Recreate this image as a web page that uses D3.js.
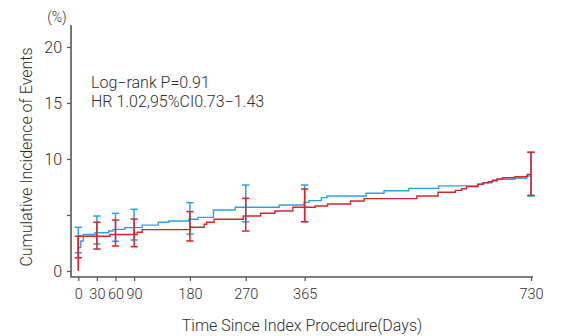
<!DOCTYPE html>
<html>
<head>
<meta charset="utf-8">
<script src="https://cdn.jsdelivr.net/npm/d3@7"></script>
<style>
  body { margin: 0; background: #fff; }
  svg text { font-family: "Roboto", "Liberation Sans", sans-serif; font-weight: 300; fill: #2e2e2e; }
</style>
</head>
<body>
<div class="container"></div>
<script>
// DATA
// blue group: cumulative incidence (%) steps
const blueDays  = [0, 0, 4, 8, 27, 49, 56, 75, 103, 129, 146, 178, 193, 218, 253, 324, 364, 372, 392, 401, 464, 493, 533, 581, 645, 652, 667, 676, 704, 723, 728, 730];
const blueRates = [0, 2.1, 2.68, 3.26, 3.42, 3.57, 3.72, 3.87, 4.1, 4.35, 4.46, 4.62, 4.79, 5.45, 5.69, 5.89, 6.13, 6.28, 6.55, 6.7, 6.94, 7.17, 7.38, 7.6, 7.74, 7.88, 8.04, 8.19, 8.28, 8.48, 8.57, 8.57];

// red group
const redDays  = [0, 0, 51, 95, 103, 180, 203, 207, 219, 266, 294, 317, 346, 382, 402, 439, 461, 546, 580, 608, 618, 626, 644, 653, 661, 668, 675, 684, 704, 724, 730];
const redRates = [0, 3.1, 3.26, 3.46, 3.69, 3.9, 4.17, 4.35, 4.62, 4.91, 5.15, 5.36, 5.69, 5.8, 5.98, 6.25, 6.46, 6.7, 7.03, 7.2, 7.35, 7.53, 7.74, 7.88, 7.97, 8.1, 8.21, 8.33, 8.42, 8.63, 8.63];

// 95% CI at landmark days
const ciDays     = [0, 30, 60, 90, 180, 270, 365, 730];
const blueUpper  = [3.9, 4.91, 5.15, 5.51, 6.1, 7.68, 7.68, 10.6];
const blueLower  = [1.63, 2.41, 2.65, 2.77, 3.3, 4.4, 4.4, 6.7];
const redUpper   = [3.1, 4.35, 4.55, 4.64, 5.3, 6.49, 7.32, 10.6];
const redLower   = [1.19, 1.96, 2.23, 2.17, 2.68, 3.57, 4.4, 6.75];

// ticks
const xTicks = [0, 30, 60, 90, 180, 270, 365, 730];
const yTicks = [0, 5, 10, 15, 20];
const yTickLabels = ["0", "", "10", "15", "20"];

const statLines = ["Log\u2212rank P=0.91", "HR 1.02,95%CI0.73\u22121.43"];

// SETUP
const width = 582, height = 336;
const blue = "#2aa3dd", red = "#d9232c", axisColor = "#555";

const svg = d3.select(".container")
  .append("svg")
  .attr("width", width)
  .attr("height", height);

const xScale = d3.scaleLinear().domain([0, 730]).range([78.3, 531]);
const yScale = d3.scaleLinear().domain([0, 20]).range([271, 47]);

// AXES
const axisX = 71, axisY = 277;

const gx = svg.append("g")
  .attr("transform", `translate(0, ${axisY})`)
  .call(d3.axisBottom(xScale).tickValues(xTicks).tickSize(4).tickPadding(8).tickFormat(d3.format("d")));
gx.select(".domain").remove();
gx.selectAll("line").attr("stroke", axisColor).attr("stroke-width", 1.2);
gx.selectAll("text").style("font-size", "14.5px");

const gy = svg.append("g")
  .attr("transform", `translate(${axisX}, 0)`)
  .call(d3.axisLeft(yScale).tickValues(yTicks).tickSize(4).tickPadding(5).tickFormat((d, i) => yTickLabels[i]));
gy.select(".domain").remove();
gy.selectAll("line").attr("stroke", axisColor).attr("stroke-width", 1.2);
gy.selectAll("text").style("font-size", "16px");

// axis lines (L shape)
svg.append("path")
  .attr("d", `M${axisX},25V${axisY}H533`)
  .attr("fill", "none")
  .attr("stroke", axisColor)
  .attr("stroke-width", 1.6);

// labels
svg.append("text")
  .attr("x", 57).attr("y", 22)
  .attr("text-anchor", "middle")
  .style("font-size", "14px")
  .text("(%)");

svg.append("text")
  .attr("transform", "translate(32, 157) rotate(-90)")
  .attr("text-anchor", "middle")
  .style("font-size", "16px")
  .text("Cumulative Incidence of Events");

svg.append("text")
  .attr("x", 302).attr("y", 331)
  .attr("text-anchor", "middle")
  .style("font-size", "16px")
  .text("Time Since Index Procedure(Days)");

svg.selectAll(".stat")
  .data(statLines)
  .enter()
  .append("text")
  .attr("class", "stat")
  .attr("x", 91)
  .attr("y", (d, i) => 88 + i * 19)
  .style("font-size", "16px")
  .text(d => d);

// CURVES
const line = d3.line()
  .x(d => xScale(d[0]))
  .y(d => yScale(d[1]))
  .curve(d3.curveStepAfter);

function drawCI(upper, lower, color) {
  const g = svg.append("g").attr("stroke", color).attr("stroke-width", 1.5).attr("fill", "none");
  ciDays.forEach((d, i) => {
    const x = xScale(d);
    g.append("line").attr("x1", x).attr("x2", x).attr("y1", yScale(upper[i])).attr("y2", yScale(lower[i]));
    g.append("line").attr("x1", x - 3.7).attr("x2", x + 3.7).attr("y1", yScale(upper[i])).attr("y2", yScale(upper[i]));
    g.append("line").attr("x1", x - 3.7).attr("x2", x + 3.7).attr("y1", yScale(lower[i])).attr("y2", yScale(lower[i]));
  });
}

svg.append("path")
  .datum(blueDays.map((d, i) => [d, blueRates[i]]))
  .attr("d", line)
  .attr("fill", "none")
  .attr("stroke", blue)
  .attr("stroke-width", 1.4);

drawCI(blueUpper, blueLower, blue);

svg.append("path")
  .datum(redDays.map((d, i) => [d, redRates[i]]))
  .attr("d", line)
  .attr("fill", "none")
  .attr("stroke", red)
  .attr("stroke-width", 1.4);

drawCI(redUpper, redLower, red);
</script>
</body>
</html>
